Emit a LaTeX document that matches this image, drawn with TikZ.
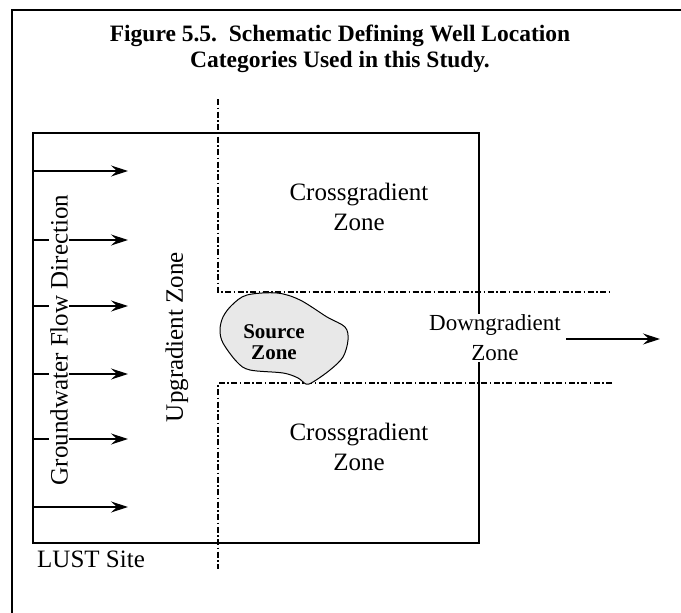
\documentclass[tikz,border=0pt]{standalone}
\usepackage{fontspec}
\setmainfont{Liberation Serif}
\usetikzlibrary{positioning,arrows.meta}

\tikzset{
  framebox/.style={line width=2pt},
  sitebox/.style={line width=1.8pt},
  zoneline/.style={line width=1.2pt, dash pattern=on 6pt off 2.5pt on 1.5pt off 2.5pt},
  flowarrow/.style={line width=1.2pt, -{Stealth[length=17pt,width=11pt,inset=6pt]}},
  zonelabel/.style={font=\fontsize{25}{30}\selectfont, align=center, inner sep=1pt},
  sourceblob/.style={line width=1pt, fill=black!9},
}

\begin{document}
\begin{tikzpicture}[x=1pt,y=-1pt]
  \useasboundingbox (0,0) rectangle (681,613);
  % frame and title
  \draw[framebox] (12,613) -- (12,10) -- (681,10);
  \node[font=\fontsize{23.5}{26}\selectfont\bfseries, align=center, inner sep=0pt, anchor=north]
    (title) at (340,25) {Figure 5.5.\ \ Schematic Defining Well Location\\Categories Used in this Study.};

  % site boundary
  \coordinate (siteNW) at (33,133);
  \coordinate (siteSE) at (479,543);
  \draw[sitebox] (siteNW) rectangle (siteSE);
  \node[font=\fontsize{25}{30}\selectfont, anchor=base west, inner sep=0pt] (site) at (37,567) {LUST Site};

  % zone boundaries
  \coordinate (divTop) at (218,99);
  \coordinate (divUp) at (218,292);
  \coordinate (upEnd) at (612,292);
  \coordinate (divLow) at (218,383);
  \coordinate (lowEnd) at (612,383);
  \coordinate (divBot) at (218,569);
  \draw[zoneline] (divTop) -- (divUp) -- (upEnd);
  \draw[zoneline] (lowEnd) -- (divLow) -- (divBot);

  % flow arrows
  \foreach \y [count=\i] in {171,240,306,374,439,507} {
    \coordinate (flowA\i) at (33,\y);
    \coordinate (flowB\i) at (128,\y);
    \draw[flowarrow] (flowA\i) -- (flowB\i);
  }
  \node[zonelabel, rotate=90, fill=white] (flow) at (59,340) {Groundwater Flow Direction};
  \node[zonelabel, rotate=90] (upzone) at (177,337) {Upgradient Zone};

  % source area
  \draw[sourceblob] plot[smooth cycle, tension=0.55] coordinates {
    (223,317) (232,305) (247,295) (277,293) (300,300) (327,317) (345,327)
    (348,340) (343,357) (330,370) (313,382) (306,384) (298,378) (283,373)
    (250,370) (237,362) (223,343) (220,330)};
  \node[font=\fontsize{21}{21}\selectfont\bfseries, align=center] (source) at (274,342) {Source\\Zone};

  % zone labels
  \node[zonelabel] (crossUp) at (359,207) {Crossgradient\\Zone};
  \node[zonelabel] (crossLow) at (359,447) {Crossgradient\\Zone};
  \node[zonelabel, font=\fontsize{23}{30}\selectfont, fill=white] (down) at (495,338) {Downgradient\\Zone};
  \coordinate (downA) at (566,339);
  \coordinate (downB) at (660,339);
  \draw[flowarrow] (downA) -- (downB);
\end{tikzpicture}
\end{document}
